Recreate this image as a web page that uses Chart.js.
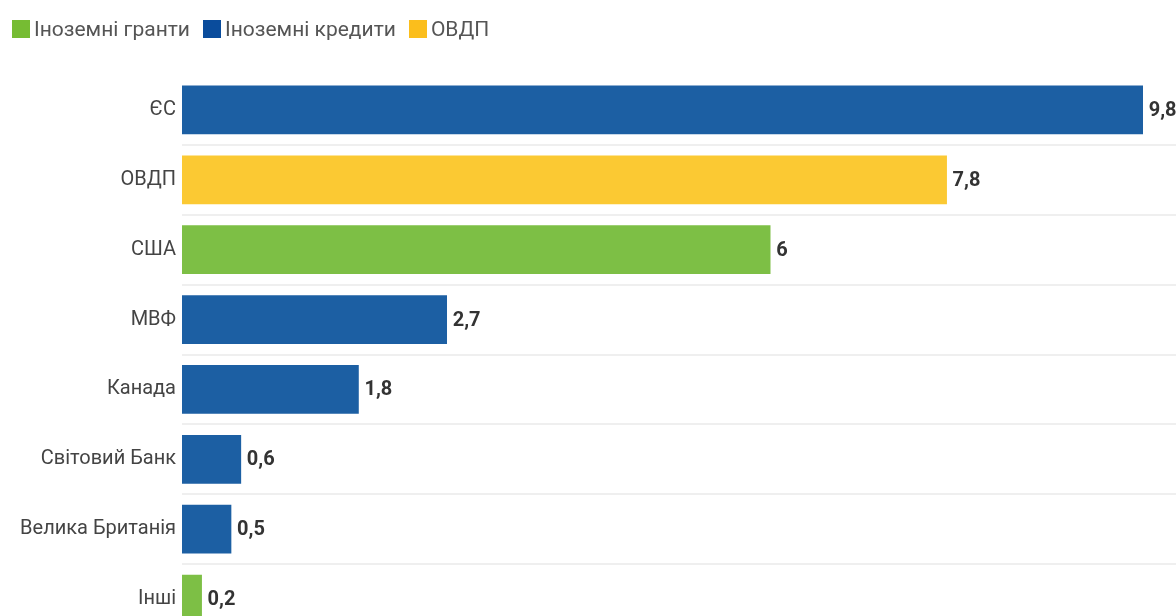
<!DOCTYPE html>
<html>
<head>
<meta charset="utf-8">
<script src="https://cdn.jsdelivr.net/npm/chart.js@4.4.1/dist/chart.umd.min.js"></script>
<style>
  html, body { margin: 0; padding: 0; background: #fff; overflow: hidden; }
  #wrap { position: absolute; left: 0; top: 0; width: 1176px; height: 652px; }
  #myChart { width: 1176px; height: 652px; }
  #legend { position: absolute; left: 12px; top: 17px; display: flex; font: 21px Roboto, sans-serif; color: #555; line-height: 24px; }
  #legend .item { display: flex; align-items: center; margin-right: 13px; }
  #legend .box { width: 18px; height: 18px; margin-right: 4px; }
</style>
</head>
<body>
<div id="wrap"><canvas id="myChart" width="1176" height="652"></canvas></div>
<div id="legend"></div>
<script>
const labels = ['ЄС', 'ОВДП', 'США', 'МВФ', 'Канада', 'Світовий Банк', 'Велика Британія', 'Інші'];
const grants = [null, null, 6, null, null, null, null, 0.2];
const loans = [9.8, null, null, 2.7, 1.8, 0.6, 0.5, null];
const ovdp = [null, 7.8, null, null, null, null, null, null];

// draws the value at the end of every bar
const valueLabels = {
    id: 'valueLabels',
    afterDatasetsDraw(chart) {
        const ctx = chart.ctx;
        ctx.save();
        ctx.font = 'bold 20px Roboto';
        ctx.fillStyle = '#333';
        ctx.textAlign = 'left';
        ctx.textBaseline = 'middle';
        chart.data.datasets.forEach((ds, i) => {
            chart.getDatasetMeta(i).data.forEach((bar, j) => {
                const v = ds.data[j];
                if (v == null) return;
                ctx.fillText(String(v).replace('.', ','), bar.x + 6, bar.y + 1);
            });
        });
        ctx.restore();
    }
};

const data = {
    labels: labels,
    datasets: [{
        label: 'Іноземні гранти',
        backgroundColor: '#7dbf45',
        legendColor: '#76bc33',
        data: grants,
    }, {
        label: 'Іноземні кредити',
        backgroundColor: '#1c5fa3',
        legendColor: '#0a4c9c',
        data: loans,
    }, {
        label: 'ОВДП',
        backgroundColor: '#fbc933',
        legendColor: '#fbbe1c',
        data: ovdp,
    }]
};

const config = {
    type: 'bar',
    data: data,
    plugins: [valueLabels],
    options: {
        indexAxis: 'y',
        responsive: false,
        maintainAspectRatio: false,
        animation: false,
        barThickness: 48,
        layout: { padding: { left: 0, right: 0, top: 75, bottom: 0 } },
        plugins: {
            tooltip: { enabled: false },
            legend: { display: false }
        },
        scales: {
            x: {
                stacked: true,
                display: false,
                min: 0,
                max: 10.14
            },
            y: {
                stacked: true,
                afterFit(scale) { scale.width = 182; },
                border: { display: false },
                grid: {
                    drawTicks: false,
                    lineWidth: 2,
                    color: (c) => c.index === 0 ? 'rgba(0,0,0,0)' : '#efefef'
                },
                ticks: {
                    padding: 6,
                    color: '#444',
                    font: { family: 'Roboto', size: 20 }
                }
            }
        }
    }
};

const myChart = new Chart(document.getElementById('myChart'), config);

// html legend
const legend = document.getElementById('legend');
data.datasets.forEach(ds => {
    const item = document.createElement('div');
    item.className = 'item';
    const box = document.createElement('span');
    box.className = 'box';
    box.style.background = ds.legendColor;
    const txt = document.createElement('span');
    txt.textContent = ds.label;
    item.appendChild(box);
    item.appendChild(txt);
    legend.appendChild(item);
});
</script>
</body>
</html>
